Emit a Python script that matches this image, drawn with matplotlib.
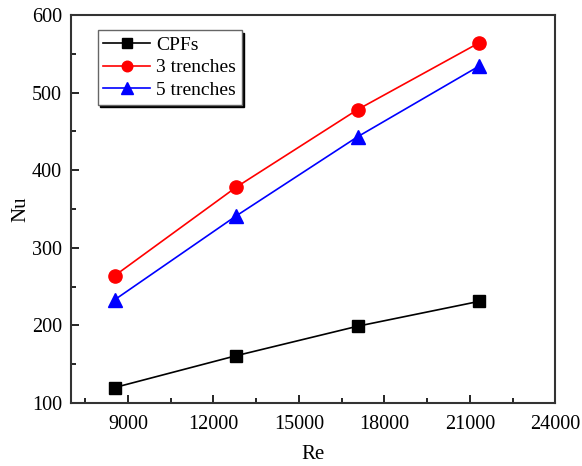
import matplotlib
matplotlib.use("Agg")
import matplotlib.pyplot as plt
from matplotlib.ticker import MultipleLocator

plt.rcParams["font.family"] = ["Liberation Serif", "DejaVu Serif"]

# Re values and Nusselt numbers
re_vals = [8530, 12795, 17060, 21325]
nu_cpfs = [120, 161, 199, 231]
nu_3tr = [264, 378, 478, 564]
nu_5tr = [233, 341, 443, 534]

fig = plt.figure(figsize=(5.82, 4.66), dpi=100)
ax = fig.add_axes([0.122, 0.135, 0.832, 0.833])

ax.plot(re_vals, nu_cpfs, "-s", color="black", lw=1.2, ms=8.5, label="CPFs")
ax.plot(re_vals, nu_3tr, "-o", color="red", lw=1.2, ms=9.5, label="3 trenches")
ax.plot(re_vals, nu_5tr, "-^", color="blue", lw=1.2, ms=10.5, label="5 trenches")

ax.set_xlim(7000, 24000)
ax.set_ylim(100, 600)
ax.xaxis.set_major_locator(MultipleLocator(3000))
ax.xaxis.set_minor_locator(MultipleLocator(1500))
ax.yaxis.set_major_locator(MultipleLocator(100))
ax.yaxis.set_minor_locator(MultipleLocator(50))
ax.tick_params(which="both", direction="in", labelsize=14.5, top=False, right=False)
ax.tick_params(which="major", length=6, width=1.2)
ax.tick_params(which="minor", length=3.5, width=1.2)
ax.tick_params(axis="x", which="major", pad=8.5)
ax.tick_params(axis="y", which="major", pad=6.5)
for sp in ax.spines.values():
    sp.set_linewidth(1.5)
    sp.set_color("#333333")

ax.set_xlabel("Re", fontsize=15, labelpad=8)
ax.set_ylabel("Nu", fontsize=15, labelpad=1)

leg = ax.legend(loc="upper left", bbox_to_anchor=(0.055, 0.96), fontsize=14,
                fancybox=False, shadow={"color": "black", "alpha": 1},
                edgecolor="#666666", framealpha=1, handlelength=2.4,
                handletextpad=0.3, borderpad=0.3, labelspacing=0.25,
                borderaxespad=0, markerscale=0.8)
leg.get_frame().set_linewidth(1.0)

fig.savefig("out.png", dpi=100)
